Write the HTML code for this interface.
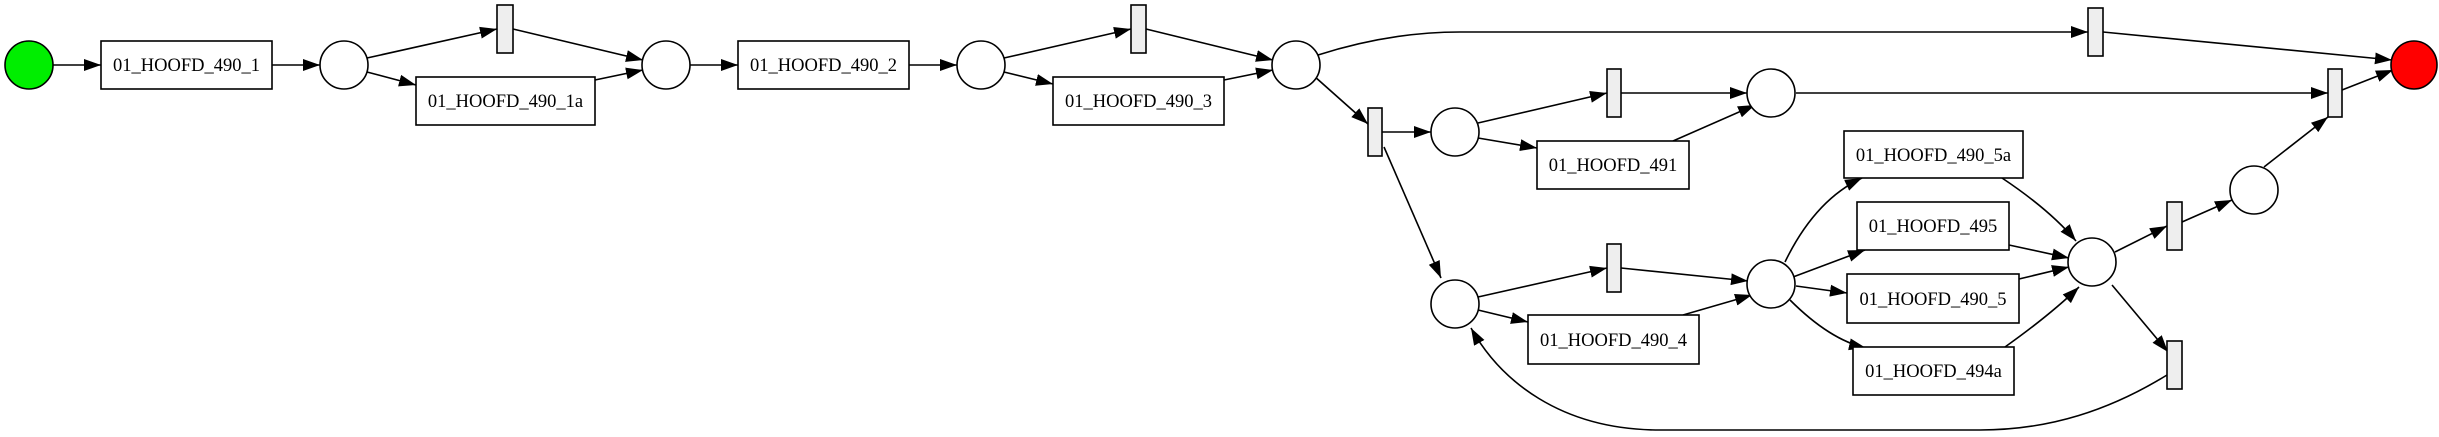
<!DOCTYPE html>
<html><head><meta charset="utf-8"><style>
html,body{margin:0;padding:0;background:#fff;width:2439px;height:437px;overflow:hidden}
text{font-family:"Liberation Serif",serif;font-size:18.5px;fill:#000}
</style></head><body>
<svg width="2439" height="437" viewBox="0 0 2439 437" xmlns="http://www.w3.org/2000/svg">
<defs><marker id="a" viewBox="0 0 10 10" refX="10" refY="5" markerWidth="17" markerHeight="17" markerUnits="userSpaceOnUse" orient="auto"><path d="M0,1.5 L10,5 L0,8.5 z" fill="#000"/></marker></defs>
<g fill="none" stroke="#000" stroke-width="1.6" marker-end="url(#a)">
<path d="M53,65 L101,65"/>
<path d="M272,65 L320,65"/>
<path d="M367,58 L497,29"/>
<path d="M513,29 L643,60"/>
<path d="M367,72 L416,85"/>
<path d="M595,80 L643,70"/>
<path d="M690,65 L738,65"/>
<path d="M909,65 L957,65"/>
<path d="M1004,58 L1131,29"/>
<path d="M1146,29 L1273,60"/>
<path d="M1004,72 L1053,84"/>
<path d="M1224,80 L1273,70"/>
<path d="M1318,55 Q1390,32 1460,32 L2088,32"/>
<path d="M2103,32 L2392,60"/>
<path d="M1314,76 L1368,124"/>
<path d="M1382,132 L1431,132"/>
<path d="M1478,123 L1607,93"/>
<path d="M1478,138 L1537,148"/>
<path d="M1621,93 L1747,93"/>
<path d="M1673,141 L1755,105"/>
<path d="M1796,93 L2328,93"/>
<path d="M2342,90 L2393,70"/>
<path d="M1384,147 L1441,278"/>
<path d="M1478,297 L1607,268"/>
<path d="M1478,310 L1528,322"/>
<path d="M1621,268 L1748,281"/>
<path d="M1683,315 L1752,295"/>
<path d="M1785,262 Q1815,200 1862,178"/>
<path d="M1793,277 L1865,250"/>
<path d="M1796,286 L1847,293"/>
<path d="M1790,300 Q1830,340 1866,348"/>
<path d="M2002,178 Q2050,210 2076,241"/>
<path d="M2009,245 L2069,258"/>
<path d="M2019,279 L2069,267"/>
<path d="M2005,347 Q2050,315 2079,287"/>
<path d="M2115,252 L2167,226"/>
<path d="M2182,222 L2232,200"/>
<path d="M2264,167 L2328,117"/>
<path d="M2112,285 L2168,352"/>
<path d="M2167,375 C2110,410 2050,430 1980,430 L1660,430 C1560,430 1500,380 1471,328"/>
</g>
<g stroke="#000" stroke-width="1.6">
<ellipse cx="29" cy="65" rx="24" ry="24" fill="#00ee00"/>
<ellipse cx="2414" cy="65" rx="23" ry="24" fill="#ff0000"/>
<g fill="#fff">
<ellipse cx="344" cy="65" rx="24" ry="24"/>
<ellipse cx="666" cy="65" rx="24" ry="24"/>
<ellipse cx="981" cy="65" rx="24" ry="24"/>
<ellipse cx="1296" cy="65" rx="24" ry="24"/>
<ellipse cx="1455" cy="132" rx="24" ry="24"/>
<ellipse cx="1771" cy="93" rx="24" ry="24"/>
<ellipse cx="1455" cy="304" rx="24" ry="24"/>
<ellipse cx="1771" cy="284" rx="24" ry="24"/>
<ellipse cx="2092" cy="262" rx="24" ry="24"/>
<ellipse cx="2254" cy="190" rx="24" ry="24"/>
<rect x="101" y="41" width="171" height="48"/>
<rect x="416" y="77" width="179" height="48"/>
<rect x="738" y="41" width="171" height="48"/>
<rect x="1053" y="77" width="171" height="48"/>
<rect x="1537" y="141" width="152" height="48"/>
<rect x="1528" y="315" width="171" height="49"/>
<rect x="1844" y="131" width="179" height="47"/>
<rect x="1857" y="202" width="152" height="48"/>
<rect x="1847" y="274" width="172" height="49"/>
<rect x="1853" y="347" width="161" height="48"/>
</g>
<g fill="#eeeeee">
<rect x="497" y="5" width="16" height="48"/>
<rect x="1131" y="5" width="15" height="48"/>
<rect x="2088" y="8" width="15" height="48"/>
<rect x="2328" y="69" width="14" height="48"/>
<rect x="1368" y="108" width="14" height="48"/>
<rect x="1607" y="69" width="14" height="48"/>
<rect x="1607" y="244" width="14" height="48"/>
<rect x="2167" y="202" width="15" height="48"/>
<rect x="2167" y="341" width="15" height="48"/>
</g>
</g>
<g text-anchor="middle">
<text x="186.5" y="71">01_HOOFD_490_1</text>
<text x="505.5" y="107">01_HOOFD_490_1a</text>
<text x="823.5" y="71">01_HOOFD_490_2</text>
<text x="1138.5" y="107">01_HOOFD_490_3</text>
<text x="1613" y="171">01_HOOFD_491</text>
<text x="1613.5" y="346">01_HOOFD_490_4</text>
<text x="1933.5" y="161">01_HOOFD_490_5a</text>
<text x="1933" y="232">01_HOOFD_495</text>
<text x="1933" y="305">01_HOOFD_490_5</text>
<text x="1933.5" y="377">01_HOOFD_494a</text>
</g>
</svg>
</body></html>
